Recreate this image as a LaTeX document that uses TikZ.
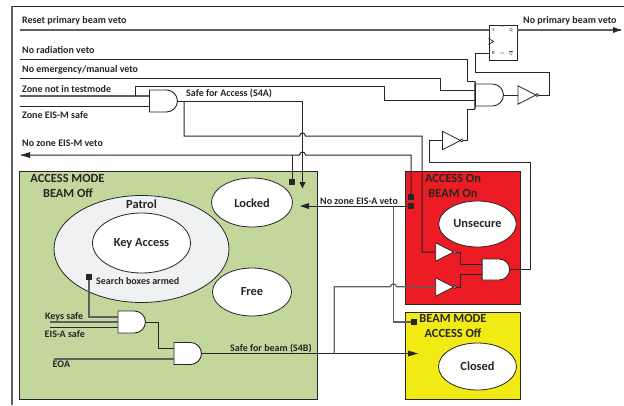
\documentclass[tikz,border=0pt]{standalone}
\usepackage{fontspec}
\setmainfont{Carlito}
\usetikzlibrary{shapes.geometric,shapes.misc,calc}
\definecolor{ink}{HTML}{262626}
\definecolor{wiregrey}{HTML}{5F5F5F}
\definecolor{zonegreen}{HTML}{C3D69B}
\definecolor{zonered}{HTML}{ED1C24}
\definecolor{zoneyellow}{HTML}{F2EA14}
\definecolor{patrolfill}{HTML}{F0F1F3}
\tikzset{
  lbl/.style={font=\fontsize{10}{12}\selectfont\bfseries,text=ink,inner sep=0pt,anchor=west},
  head/.style={font=\fontsize{12.4}{14}\selectfont\bfseries,text=ink,inner sep=0pt},
  statename/.style={font=\fontsize{12.4}{14}\selectfont\bfseries,text=ink,inner sep=0pt},
  zone/.style={draw=ink,line width=0.9pt,inner sep=0pt,anchor=north west},
  state/.style={ellipse,draw=ink,line width=0.8pt,fill=white,inner sep=0pt},
  wire/.style={draw=ink,line width=1pt},
  gwire/.style={draw=wiregrey,line width=1.2pt},
  andg/.style={rounded rectangle,rounded rectangle west arc=none,draw=ink,line width=0.9pt,fill=white,
    inner sep=0pt,minimum width=28pt,minimum height=22pt,anchor=west},
  notbox/.style={inner sep=0pt,minimum width=17.5pt,minimum height=18pt,anchor=west},
  bubble/.style={circle,draw=ink,line width=0.7pt,fill=white,inner sep=0pt,minimum size=3pt},
  sq/.style={fill=ink,inner sep=0pt,minimum size=6pt},
  ffs/.style={font=\fontsize{4.8}{5}\selectfont\bfseries,text=ink!75,inner sep=0pt},
  ffm/.style={font=\fontsize{2.8}{3}\selectfont,text=ink!75,inner sep=0pt},
}
\newcommand{\notgate}[2]{%
  \node[notbox] (#1) at (#2) {};
  \draw[ink,line width=0.8pt,fill=white] (#1.north west) -- (#1.east) -- (#1.south west) -- cycle;
  \node[bubble] (#1b) at ($(#1.east)+(1.2,0)$) {};
}
\begin{document}
\begin{tikzpicture}[x=1pt,y=-1pt]
\useasboundingbox (0,0) rectangle (624,405);
% frame
\coordinate (frameTL) at (12,6);
\coordinate (frameTR) at (624,6);
\coordinate (frameBL) at (12,405);
\draw[ink,line width=0.9pt] (frameTL) -- (frameTR);
\draw[wiregrey,line width=1.2pt] (frameTL) -- (frameBL);
% zones
\node[zone,fill=zonegreen,minimum width=298pt,minimum height=228pt] (green) at (19,171) {};
\node[zone,fill=zonered,minimum width=115.5pt,minimum height=133pt] (red) at (404.5,171) {};
\node[zone,fill=zoneyellow,minimum width=115.5pt,minimum height=87.5pt] (yellow) at (404.5,311.5) {};
% states
\node[state,fill=patrolfill,minimum width=175pt,minimum height=107pt] (patrol) at (141.5,249) {};
\node[state,minimum width=98pt,minimum height=60pt] (key) at (141.5,243) {};
\node[state,minimum width=81pt,minimum height=49pt] (locked) at (252,202.5) {};
\node[state,minimum width=79pt,minimum height=48pt] (free) at (252,292) {};
\node[state,minimum width=77.5pt,minimum height=46pt] (unsecure) at (477.5,224) {};
\node[state,minimum width=78pt,minimum height=47pt] (closed) at (477.5,366.5) {};
% flip-flop
\node[draw=ink,line width=0.9pt,fill=white,inner sep=0pt,minimum width=28.5pt,minimum height=35pt,anchor=north west] (ff) at (488.5,24.5) {};
\node[ffs] (ffS) at (493.5,30) {S};
\node[ffs] (ffQ) at (511,30) {Q};
\node[ffs] (ffR) at (493.5,53) {R};
\node[ffs] (ffQb) at (511,53) {$\overline{\mathrm{Q}}$};
\node[ffm] (ffSet) at (502.5,26.5) {SET};
\node[ffm] (ffClr) at (502,53.5) {CLR};
\coordinate (ckA) at (488.5,38.5);
\coordinate (ckB) at (493.5,41.5);
\coordinate (ckC) at (488.5,44.5);
\draw[ink,line width=0.7pt] (ckA) -- (ckB) -- (ckC);
% free ends and gate inputs
\coordinate (barT) at (475,81);
\coordinate (barB) at (475,109);
\coordinate (inReset) at (20,30);
\coordinate (outBeam) at (621,30);
\coordinate (inRad) at (20,59);
\coordinate (inEmerg) at (20,78.5);
\coordinate (inTest) at (20,96);
\coordinate (inEis) at (20,106);
\coordinate (outEisM) at (21,155);
\coordinate (inKeys) at (50,322);
\coordinate (inEisA) at (50,327);
\coordinate (inEoa) at (54,359);
\coordinate (g1a) at (149,96);
\coordinate (g1b) at (149,106);
\coordinate (g2a) at (117.5,317);
\coordinate (g2b) at (117.5,322);
\coordinate (g2c) at (117.5,327);
\coordinate (g3a) at (173.5,348);
\coordinate (g3b) at (173.5,359);
\coordinate (g4a) at (481.7,264.5);
\coordinate (g4b) at (481.7,274.5);
\coordinate (ffRin) at (488.5,53);
\coordinate (ffSin) at (488.5,30);
\coordinate (ffQout) at (517,30);
\coordinate (mainB) at (475,90);
\coordinate (mainC) at (475,100);
% squares
\node[sq] (sqLocked) at (292,182) {};
\node[sq] (sqRed1) at (411,197) {};
\node[sq] (sqRed2) at (411,206) {};
\node[sq] (sqYellow) at (414,322) {};
\node[sq] (sqSearch) at (89,277) {};
% wires
\draw[gwire,line width=1.5pt] (inReset) -- (ffSin);
\draw[gwire,line width=1.5pt] (ffQout) -- (outBeam);
\fill[ink] (outBeam) -- ++(-8,-3) -- ++(0,6) -- cycle;
\draw[wire] (inRad) -- (467,59) -- (467,81) -- (barT);
\draw[wire] (inEmerg) -- (440,78.5) -- (440,90) -- (mainB);
\draw[gwire] (inTest) -- (g1a);
\draw[wire] (135.5,96) -- (135.5,86.5) -- (384.5,86.5) -- (384.5,100) -- (mainC);
\draw[wire] (inEis) -- (g1b);
\draw[wire] (177,101) -- (302.5,101) -- (302.5,183);
\fill[ink] (299.3,182) -- (305.7,182) -- (302.5,188.5) -- cycle;
\draw[wire] (184,101) -- (184,136) -- (299.5,136) .. controls (300.5,132) and (304.5,132) .. (305.5,136) -- (422,136) -- (422,252) -- (435.7,252);
\draw[wire] (sqRed1) -- (411,155) -- (305.5,155) .. controls (304.5,151) and (300.5,151) .. (299.5,155) -- (outEisM);
\fill[ink] (outEisM) -- ++(9,-3) -- ++(0,6) -- cycle;
\draw[wire] (292,155) -- (sqLocked);
\draw[wire] (503,95) -- (518,95);
\draw[wire] (536,95) -- (549,95) -- (549,72) -- (475.5,72) -- (475.5,53) -- (ffRin);
\draw[wire] (509,269) -- (530,269) -- (530,162.5) -- (429.5,162.5) -- (429.5,140.5) -- (442.5,140.5);
\draw[wire] (461,140.5) -- (467,140.5) -- (467,109) -- (barB);
\draw[wire] (454,252) -- (460,252) -- (460,264.5) -- (g4a);
\draw[wire] (454,287) -- (460,287) -- (460,274.5) -- (g4b);
\draw[wire] (sqRed2) -- (304,206);
\fill[ink] (300,206) -- ++(9,-3) -- ++(0,6) -- cycle;
\draw[gwire] (393.5,206) -- (393.5,322) -- (sqYellow);
\draw[gwire] (sqSearch) -- (89,317) -- (g2a);
\draw[gwire] (inKeys) -- (g2b);
\draw[wire] (inEisA) -- (g2c);
\draw[wire] (145,322) -- (158.5,322) -- (158.5,348) -- (g3a);
\draw[gwire] (inEoa) -- (g3b);
\draw[wire] (201,353.5) -- (412,353.5);
\fill[ink] (418,353.5) -- ++(-10,-3) -- ++(0,6) -- cycle;
\draw[gwire] (334.3,353.5) -- (334.3,286.7) -- (390.5,286.7) .. controls (391.5,282.7) and (395.5,282.7) .. (396.5,286.7) -- (435.7,286.7);
% gates
\draw[gwire] (barT) -- (barB);
\node[andg] (g1) at (149,101) {};
\node[andg] (gmain) at (475,95) {};
\node[andg,minimum width=27.5pt] (g2) at (117.5,322) {};
\node[andg,minimum width=27.5pt] (g3) at (173.5,353.5) {};
\node[andg,minimum width=27.5pt,minimum height=21pt] (g4) at (481.7,269.5) {};
\notgate{n1}{518,95}
\notgate{n2}{442.5,140.5}
\notgate{n3}{435.7,252}
\notgate{n4}{435.7,287}
% labels
\node[lbl] (tReset) at (22,21) {Reset primary beam veto};
\node[lbl] (tOut) at (523,21) {No primary beam veto};
\node[lbl] (tRad) at (22,50) {No radiation veto};
\node[lbl] (tEmerg) at (22,70) {No emergency/manual veto};
\node[lbl] (tTest) at (22,89) {Zone not in testmode};
\node[lbl] (tEis) at (22,115) {Zone EIS-M safe};
\node[lbl] (tS4a) at (186,94) {Safe for Access (S4A)};
\node[lbl] (tEisM) at (22,143) {No zone EIS-M veto};
\node[lbl] (tEisA) at (320,201) {No zone EIS-A veto};
\node[lbl] (tSearch) at (96,281) {Search boxes armed};
\node[lbl] (tKeys) at (45,317) {Keys safe};
\node[lbl] (tEisAs) at (44.5,334) {EIS-A safe};
\node[lbl] (tEoa) at (52.5,364) {EOA};
\node[lbl] (tS4b) at (230,349) {Safe for beam (S4B)};
\node[head] (hG1) at (67.5,178) {ACCESS MODE};
\node[head] (hG2) at (68,193) {BEAM Off};
\node[head] (hR1) at (453,178) {ACCESS On};
\node[head] (hR2) at (453,193) {BEAM On};
\node[head] (hY1) at (453,318) {BEAM MODE};
\node[head] (hY2) at (453,333) {ACCESS Off};
\node[statename] (sPatrol) at (141.5,204) {Patrol};
\node[statename] (sLocked) at (252,203) {Locked};
\node[statename] (sFree) at (252,292) {Free};
\node[statename] (sUns) at (477.5,224) {Unsecure};
\node[statename] (sClosed) at (477.5,366) {Closed};
\node[statename] (sKey) at (141.5,243) {Key Access};
\end{tikzpicture}
\end{document}
